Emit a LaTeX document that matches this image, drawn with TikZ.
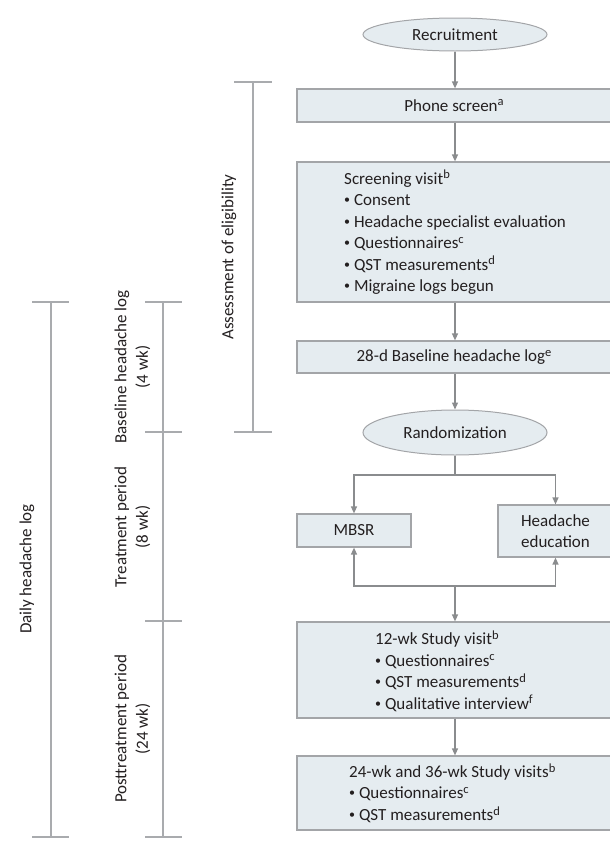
\documentclass[tikz,border=0pt]{standalone}
\usepackage{fontspec}
\setmainfont{Carlito}
\usetikzlibrary{arrows.meta,shapes.geometric}
\definecolor{boxfill}{HTML}{E5ECF0}
\definecolor{boxline}{HTML}{A3A5A8}
\definecolor{arrowc}{HTML}{8A8C8E}
\definecolor{barc}{HTML}{A9ABAE}
\definecolor{txt}{HTML}{231F20}
\newcommand{\bul}{\raisebox{0.12em}{\fontsize{12}{12}\selectfont\textbullet}\ }
\newcommand{\sups}[1]{\raisebox{0.32em}{\fontsize{12.5}{12.5}\selectfont #1}}
\tikzset{
  every node/.style={font=\fontsize{17}{21.5}\selectfont, text=txt},
  boxnode/.style={draw=boxline, fill=boxfill, line width=1.2pt, rectangle, inner sep=0pt},
  ellnode/.style={draw=boxline, fill=boxfill, line width=1pt, ellipse, inner sep=0pt, minimum width=184pt},
  flowarrow/.style={draw=arrowc, line width=1.3pt, -{Triangle[length=7pt,width=6pt]}},
  flowline/.style={draw=arrowc, line width=1.3pt},
  barline/.style={draw=barc, line width=1.5pt},
  listtext/.style={anchor=west, align=left, inner sep=0pt},
  sidelabel/.style={rotate=90, align=center, inner sep=0pt}
}
\begin{document}
\begin{tikzpicture}[x=1pt,y=-1pt]
\useasboundingbox (0,0) rectangle (610,857);
% flow nodes
\node[ellnode, minimum height=33pt] (rec) at (455,34.5) {Recruitment};
\node[boxnode, minimum width=314pt, minimum height=33pt] (phone) at (454,105.5) {Phone screen\sups{a}};
\node[boxnode, minimum width=314pt, minimum height=140pt] (screen) at (454,232) {};
\node[listtext] (screent) at (344,232.5) {Screening visit\sups{b}\\
\bul Consent\\
\bul Headache specialist evaluation\\
\bul Questionnaires\sups{c}\\
\bul QST measurements\sups{d}\\
\bul Migraine logs begun};
\node[boxnode, minimum width=314pt, minimum height=32pt] (base) at (454,357) {28-d Baseline headache log\sups{e}};
\node[ellnode, minimum height=45pt] (rand) at (455,432.5) {Randomization};
\node[boxnode, minimum width=114pt, minimum height=33pt] (mbsr) at (354,530.5) {MBSR};
\node[boxnode, minimum width=115pt, minimum height=52pt, align=center] (hedu) at (555.5,531) {Headache\\education};
\node[boxnode, minimum width=314pt, minimum height=96pt] (v12) at (454,670) {};
\node[listtext] (v12t) at (375,671) {12-wk Study visit\sups{b}\\
\bul Questionnaires\sups{c}\\
\bul QST measurements\sups{d}\\
\bul Qualitative interview\sups{f}};
\node[boxnode, minimum width=314pt, minimum height=74pt] (v24) at (454,793) {};
\node[listtext] (v24t) at (349,793) {24-wk and 36-wk Study visits\sups{b}\\
\bul Questionnaires\sups{c}\\
\bul QST measurements\sups{d}};
% connectors
\draw[flowarrow] (rec.south) -- (rec.south |- phone.north);
\draw[flowarrow] (phone.south -| rec.south) -- (rec.south |- screen.north);
\draw[flowarrow] (screen.south -| rec.south) -- (rec.south |- base.north);
\draw[flowarrow] (base.south -| rand.north) -- (rand.north);
\coordinate (split) at (455,475);
\coordinate (join) at (455,586);
\draw[flowline] (rand.south) -- (split);
\draw[flowarrow] (split) -| (mbsr.north);
\draw[flowarrow] (split) -| (hedu.north);
\draw[flowarrow] (join) -| (mbsr.south);
\draw[flowarrow] (join) -| (hedu.south);
\draw[flowarrow] (join) -- (join |- v12.north);
\draw[flowarrow] (v12.south -| join) -- (join |- v24.north);
% side bars
\draw[barline] (253,82) -- (253,432);
\draw[barline] (234,82) -- (272,82);
\draw[barline] (234,432) -- (272,432);
\draw[barline] (163,302) -- (163,837);
\foreach \yy in {302,432,621,837} \draw[barline] (145,\yy) -- (182,\yy);
\draw[barline] (51,302) -- (51,837);
\draw[barline] (32,302) -- (69,302);
\draw[barline] (32,837) -- (69,837);
% side labels
\node[sidelabel] (lassess) at (229,257) {Assessment of eligibility};
\node[sidelabel] (lbase) at (132.5,367) {Baseline headache log\\(4 wk)};
\node[sidelabel] (ltreat) at (132.5,527) {Treatment period\\(8 wk)};
\node[sidelabel] (lpost) at (132.5,729) {Posttreatment period\\(24 wk)};
\node[sidelabel] (ldaily) at (27,569) {Daily headache log};
\end{tikzpicture}
\end{document}
